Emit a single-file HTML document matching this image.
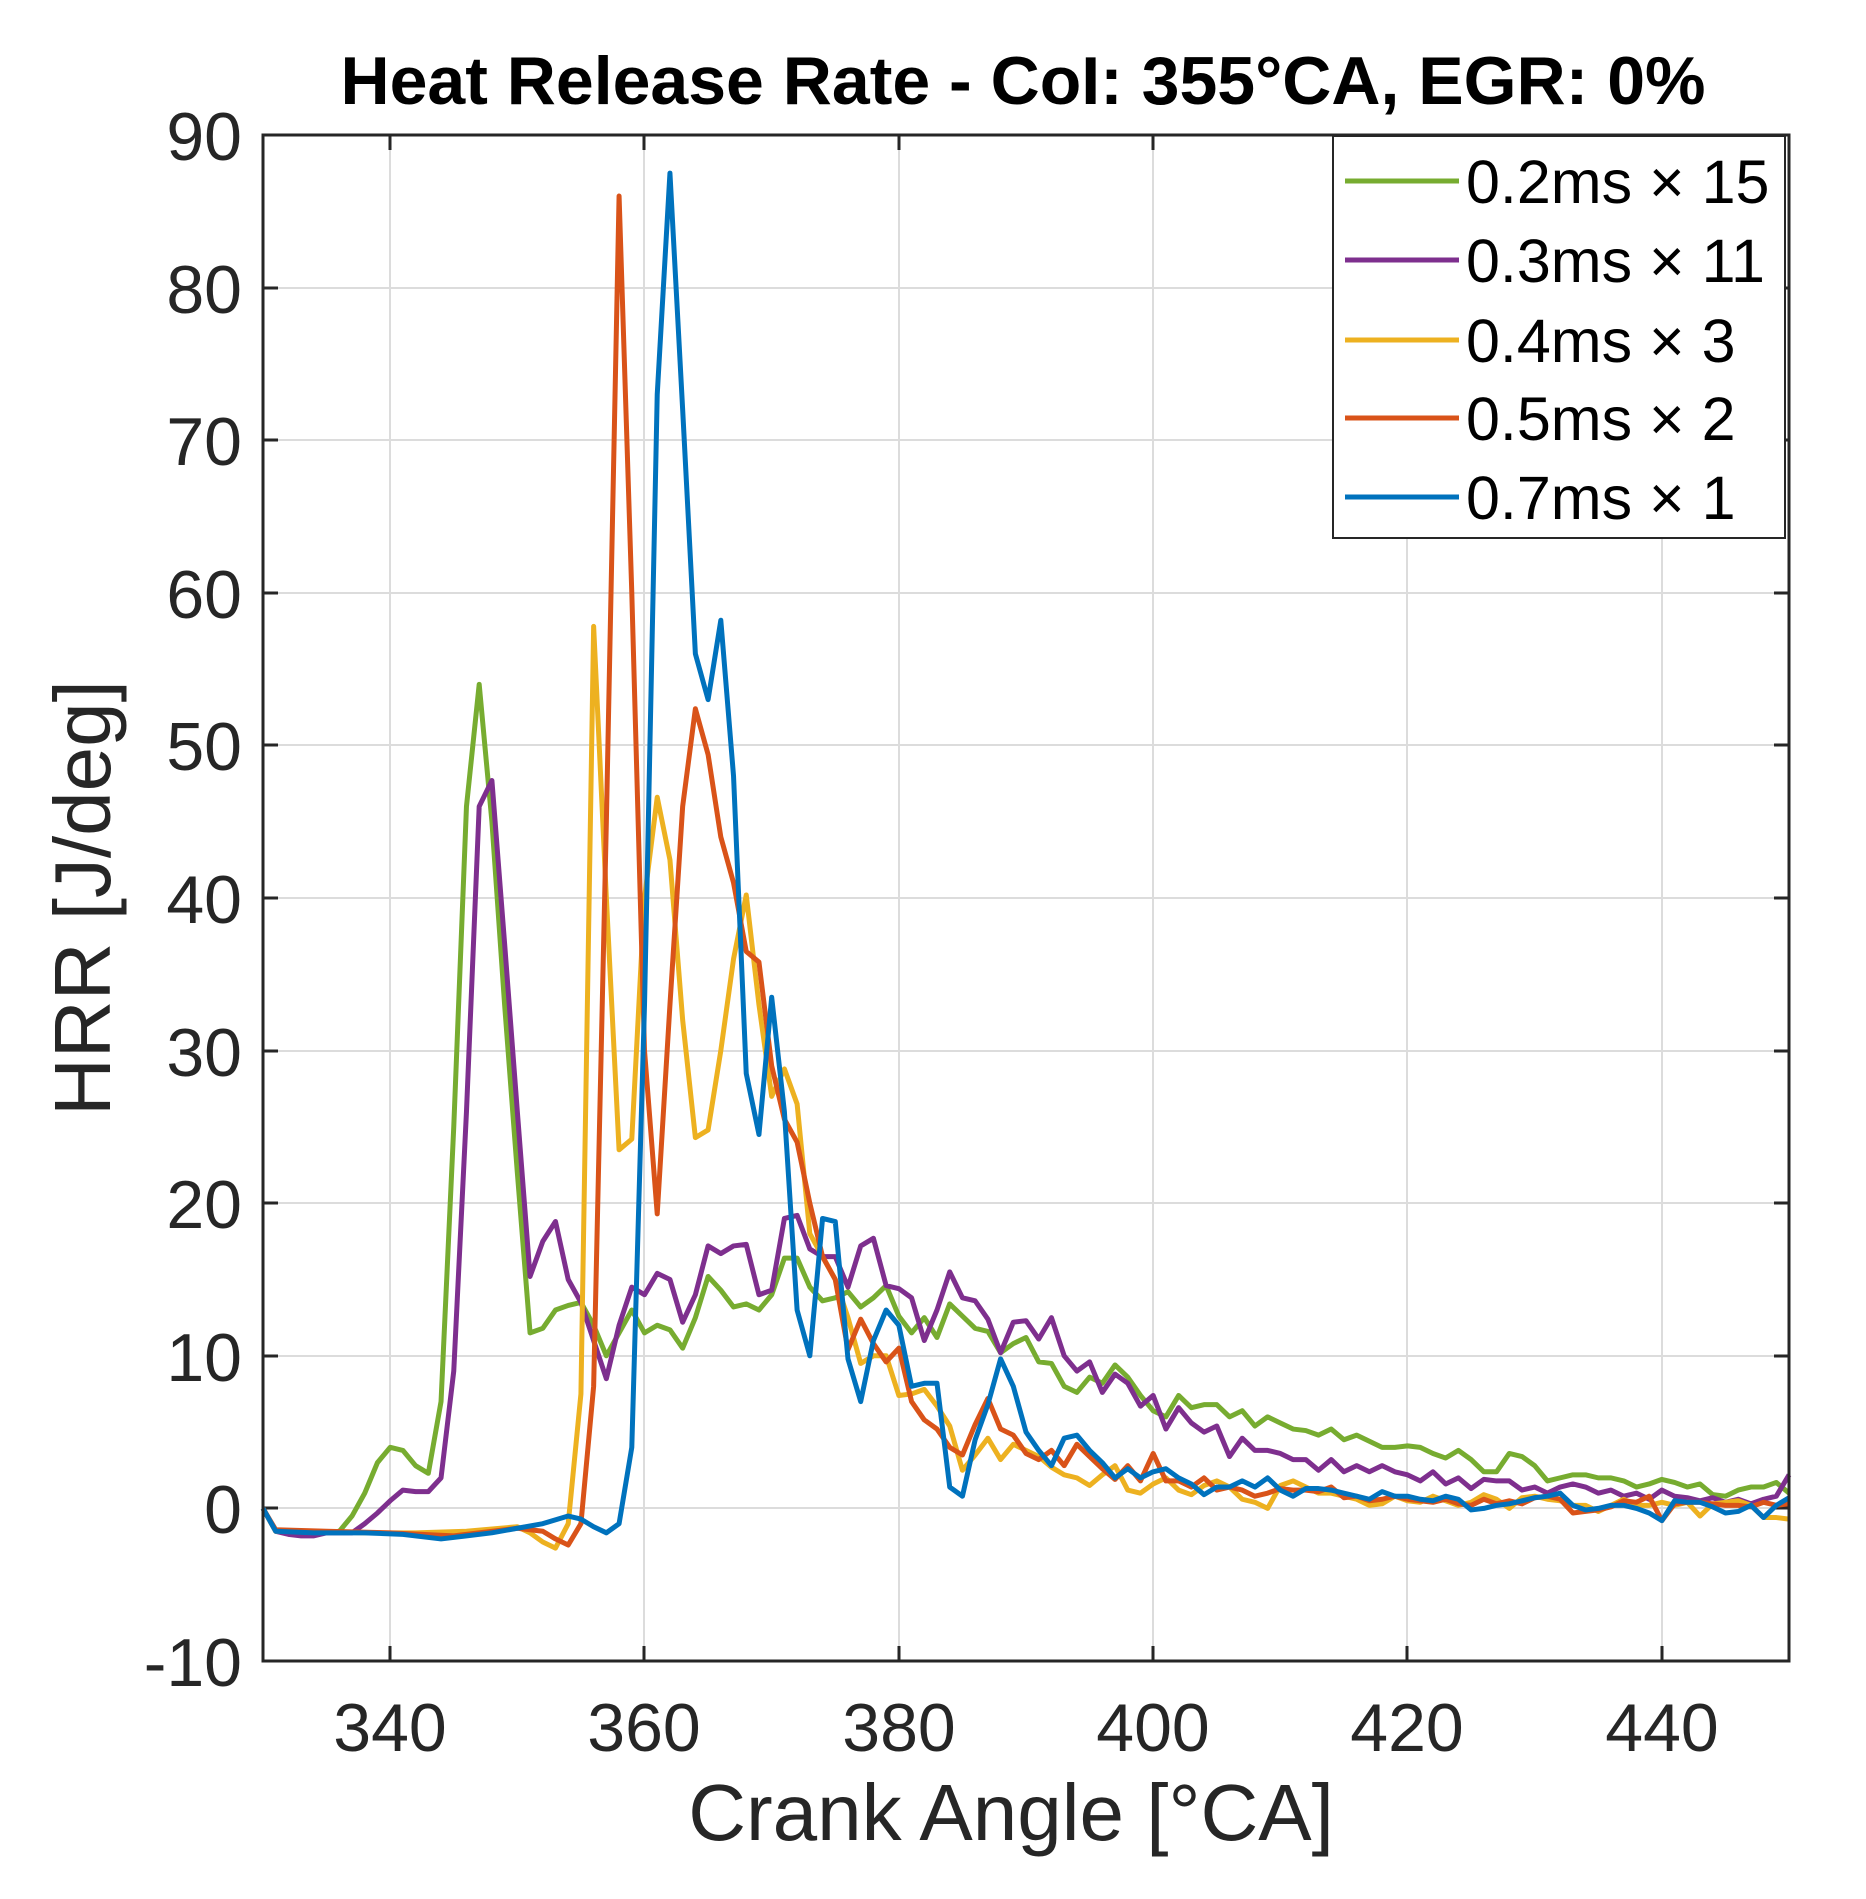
<!DOCTYPE html>
<html><head><meta charset="utf-8"><style>
html,body{margin:0;padding:0;background:#fff;}
svg{display:block;font-family:"Liberation Sans",Arial,sans-serif;}
</style></head><body>
<svg width="1866" height="1899" viewBox="0 0 1866 1899" xmlns="http://www.w3.org/2000/svg">
<rect width="1866" height="1899" fill="#fff"/>
<text x="1023" y="104" font-size="68" font-weight="bold" text-anchor="middle" fill="#000">Heat Release Rate - CoI: 355°CA, EGR: 0%</text>
<g stroke="#dcdcdc" stroke-width="2">
<line x1="390" y1="135" x2="390" y2="1661"/><line x1="644" y1="135" x2="644" y2="1661"/><line x1="899" y1="135" x2="899" y2="1661"/><line x1="1153" y1="135" x2="1153" y2="1661"/><line x1="1407" y1="135" x2="1407" y2="1661"/><line x1="1662" y1="135" x2="1662" y2="1661"/>
<line x1="263" y1="288" x2="1789" y2="288"/><line x1="263" y1="440" x2="1789" y2="440"/><line x1="263" y1="593" x2="1789" y2="593"/><line x1="263" y1="745" x2="1789" y2="745"/><line x1="263" y1="898" x2="1789" y2="898"/><line x1="263" y1="1051" x2="1789" y2="1051"/><line x1="263" y1="1203" x2="1789" y2="1203"/><line x1="263" y1="1356" x2="1789" y2="1356"/><line x1="263" y1="1508" x2="1789" y2="1508"/>
</g>
<g stroke="#262626" stroke-width="3">
<path d="M390 1661v-15M644 1661v-15M899 1661v-15M1153 1661v-15M1407 1661v-15M1662 1661v-15M390 135v15M644 135v15M899 135v15M1153 135v15M1407 135v15M1662 135v15"/>
<path d="M263 288h15M263 440h15M263 593h15M263 745h15M263 898h15M263 1051h15M263 1203h15M263 1356h15M263 1508h15M1789 288h-15M1789 440h-15M1789 593h-15M1789 745h-15M1789 898h-15M1789 1051h-15M1789 1203h-15M1789 1356h-15M1789 1508h-15"/>
</g>
<g transform="translate(263,135) scale(12.717,-15.26) translate(-330,-90)" fill="none" stroke-width="5" stroke-linejoin="round">
<polyline vector-effect="non-scaling-stroke" stroke="#77AC30" points="330,0 331,-1.5 332,-1.5 333,-1.6 334,-1.6 335,-1.6 336,-1.5 337,-0.5 338,1 339,3 340,4 341,3.8 342,2.8 343,2.3 344,7 345,25 346,46 347,54 348,45 349,33 350,22 351,11.5 352,11.8 353,13 354,13.3 355,13.5 356,12 357,10 358,11.5 359,13 360,11.5 361,12 362,11.7 363,10.5 364,12.5 365,15.2 366,14.3 367,13.2 368,13.4 369,13 370,14 371,16.4 372,16.4 373,14.5 374,13.6 375,13.8 376,14.2 377,13.2 378,13.8 379,14.6 380,12.6 381,11.5 382,12.5 383,11.2 384,13.4 385,12.6 386,11.8 387,11.6 388,10.2 389,10.8 390,11.2 391,9.6 392,9.5 393,8 394,7.6 395,8.6 396,8.2 397,9.4 398,8.6 399,7.4 400,6.4 401,6 402,7.4 403,6.6 404,6.8 405,6.8 406,6 407,6.4 408,5.4 409,6 410,5.6 411,5.2 412,5.1 413,4.8 414,5.2 415,4.5 416,4.8 417,4.4 418,4 419,4 420,4.1 421,4 422,3.6 423,3.3 424,3.8 425,3.2 426,2.4 427,2.4 428,3.6 429,3.4 430,2.8 431,1.8 432,2 433,2.2 434,2.2 435,2 436,2 437,1.8 438,1.4 439,1.6 440,1.9 441,1.7 442,1.4 443,1.6 444,0.9 445,0.8 446,1.2 447,1.4 448,1.4 449,1.7 450,1"/>
<polyline vector-effect="non-scaling-stroke" stroke="#7E2F8E" points="330,0 331,-1.5 332,-1.7 333,-1.8 334,-1.8 335,-1.6 336,-1.6 337,-1.6 338,-1 339,-0.3 340,0.5 341,1.2 342,1.1 343,1.1 344,2 345,9 346,26 347,46 348,47.7 349,37 350,26 351,15.2 352,17.5 353,18.8 354,15 355,13.5 356,11 357,8.5 358,12 359,14.5 360,14 361,15.4 362,15 363,12.2 364,14 365,17.2 366,16.7 367,17.2 368,17.3 369,14 370,14.3 371,19 372,19.2 373,17 374,16.5 375,16.5 376,14.5 377,17.2 378,17.7 379,14.6 380,14.4 381,13.8 382,11 383,13 384,15.5 385,13.8 386,13.6 387,12.4 388,10.2 389,12.2 390,12.3 391,11.1 392,12.5 393,10 394,9 395,9.6 396,7.6 397,8.8 398,8.2 399,6.7 400,7.4 401,5.2 402,6.6 403,5.6 404,5 405,5.4 406,3.4 407,4.6 408,3.8 409,3.8 410,3.6 411,3.2 412,3.2 413,2.5 414,3.2 415,2.4 416,2.8 417,2.4 418,2.8 419,2.4 420,2.2 421,1.8 422,2.4 423,1.6 424,2 425,1.3 426,1.9 427,1.8 428,1.8 429,1.2 430,1.4 431,1 432,1.4 433,1.6 434,1.4 435,1 436,1.2 437,0.8 438,1 439,0.6 440,1.2 441,0.8 442,0.7 443,0.5 444,0.7 445,0.4 446,0.6 447,0.3 448,0.6 449,0.8 450,2.2"/>
<polyline vector-effect="non-scaling-stroke" stroke="#EDB120" points="330,0 331,-1.5 334,-1.5 338,-1.6 342,-1.6 346,-1.5 350,-1.2 351,-1.6 352,-2.2 353,-2.6 354,-1 355,7.5 356,57.8 357,40 358,23.5 359,24.2 360,40 361,46.6 362,42.5 363,32 364,24.3 365,24.8 366,30 367,36 368,40.2 369,33 370,27 371,28.8 372,26.5 373,18 374,16.5 375,15 376,12.5 377,9.5 378,10 379,10 380,7.4 381,7.5 382,7.8 383,6.7 384,5.4 385,2.5 386,3.5 387,4.6 388,3.2 389,4.2 390,3.8 391,3.4 392,2.7 393,2.2 394,2 395,1.5 396,2.2 397,2.8 398,1.2 399,1 400,1.6 401,2 402,1.2 403,0.9 404,1.5 405,1.8 406,1.4 407,0.6 408,0.4 409,0 410,1.5 411,1.8 412,1.4 413,1 414,1 415,0.8 416,0.6 417,0.2 418,0.3 419,0.8 420,0.5 421,0.4 422,0.8 423,0.5 424,0.2 425,0.4 426,0.9 427,0.6 428,0 429,0.7 430,0.8 431,0.6 432,0.5 433,0.2 434,0.2 435,-0.2 436,0.2 437,0.6 438,0.2 439,0.2 440,0.4 441,0.2 442,0.4 443,-0.5 444,0.3 445,0.4 446,0.5 447,0.2 448,-0.6 449,-0.6 450,-0.7"/>
<polyline vector-effect="non-scaling-stroke" stroke="#D95319" points="330,0 331,-1.4 335,-1.5 340,-1.6 345,-1.8 350,-1.3 352,-1.5 353,-2 354,-2.4 355,-1 356,8 357,45 358,86 359,60 360,30 361,19.3 362,33 363,46 364,52.4 365,49.4 366,44 367,41 368,36.5 369,35.8 370,29 371,25.5 372,24 373,20 374,16.5 375,15 376,10.4 377,12.4 378,10.8 379,9.6 380,10.5 381,7 382,5.8 383,5.2 384,4 385,3.5 386,5.5 387,7.2 388,5.2 389,4.8 390,3.6 391,3.2 392,3.8 393,2.8 394,4.2 395,3.4 396,2.6 397,1.9 398,2.8 399,1.8 400,3.6 401,1.8 402,1.8 403,1.4 404,2 405,1.2 406,1.4 407,1.2 408,0.8 409,1 410,1.3 411,1.2 412,1.2 413,1.1 414,1.4 415,0.7 416,0.8 417,0.5 418,0.6 419,0.8 420,0.6 421,0.5 422,0.4 423,0.6 424,0.3 425,0.2 426,0.6 427,0.3 428,0.5 429,0.3 430,0.7 431,0.8 432,0.6 433,-0.3 434,-0.2 435,-0.1 436,0.1 437,0.5 438,0.4 439,0.8 440,-0.8 441,0.3 442,0.4 443,0.4 444,0.3 445,0.2 446,0.2 447,0.1 448,0.4 449,0.2 450,0.3"/>
<polyline vector-effect="non-scaling-stroke" stroke="#0072BD" points="330,0 331,-1.5 334,-1.6 338,-1.6 341,-1.7 344,-2 346,-1.8 348,-1.6 350,-1.3 352,-1 354,-0.5 355,-0.7 356,-1.2 357,-1.6 358,-1 359,4 360,33 361,73 362,87.5 363,72 364,56 365,53 366,58.2 367,48 368,28.5 369,24.5 370,33.5 371,26 372,13 373,10 374,19 375,18.8 376,9.8 377,7 378,11 379,13 380,12 381,8 382,8.2 383,8.2 384,1.4 385,0.8 386,4.5 387,6.8 388,9.8 389,8 390,5 391,3.8 392,2.8 393,4.6 394,4.8 395,3.8 396,3 397,2 398,2.6 399,2 400,2.4 401,2.6 402,2 403,1.6 404,0.9 405,1.4 406,1.4 407,1.8 408,1.4 409,2 410,1.2 411,0.8 412,1.3 413,1.3 414,1.2 415,1 416,0.8 417,0.6 418,1.1 419,0.8 420,0.8 421,0.6 422,0.5 423,0.8 424,0.6 425,-0.1 426,0 427,0.2 428,0.3 429,0.5 430,0.7 431,0.8 432,1 433,0.2 434,-0.1 435,0 436,0.2 437,0.2 438,0 439,-0.3 440,-0.8 441,0.5 442,0.4 443,0.4 444,0.1 445,-0.3 446,-0.2 447,0.2 448,-0.6 449,0.2 450,0.7"/>
</g>
<rect x="263" y="135" width="1526" height="1526" fill="none" stroke="#262626" stroke-width="3"/>
<g font-size="68" fill="#262626" text-anchor="end">
<text x="242" y="160">90</text><text x="242" y="313">80</text><text x="242" y="465">70</text><text x="242" y="618">60</text><text x="242" y="770">50</text><text x="242" y="923">40</text><text x="242" y="1076">30</text><text x="242" y="1228">20</text><text x="242" y="1381">10</text><text x="242" y="1533">0</text><text x="242" y="1686">-10</text>
</g>
<g font-size="68" fill="#262626" text-anchor="middle">
<text x="390" y="1751">340</text><text x="644" y="1751">360</text><text x="899" y="1751">380</text><text x="1153" y="1751">400</text><text x="1407" y="1751">420</text><text x="1662" y="1751">440</text>
</g>
<text x="1011" y="1840" font-size="80" fill="#262626" text-anchor="middle">Crank Angle [°CA]</text>
<text transform="translate(110,898) rotate(-90)" font-size="80" fill="#262626" text-anchor="middle">HRR [J/deg]</text>
<rect x="1333" y="136" width="452" height="402" fill="#fff" stroke="#262626" stroke-width="2"/>
<g stroke-width="5">
<line x1="1345" y1="181" x2="1459" y2="181" stroke="#77AC30"/>
<line x1="1345" y1="260" x2="1459" y2="260" stroke="#7E2F8E"/>
<line x1="1345" y1="340" x2="1459" y2="340" stroke="#EDB120"/>
<line x1="1345" y1="418" x2="1459" y2="418" stroke="#D95319"/>
<line x1="1345" y1="497" x2="1459" y2="497" stroke="#0072BD"/>
</g>
<g font-size="61" fill="#000">
<text x="1466" y="203">0.2ms × 15</text>
<text x="1466" y="282">0.3ms × 11</text>
<text x="1466" y="362">0.4ms × 3</text>
<text x="1466" y="440">0.5ms × 2</text>
<text x="1466" y="519">0.7ms × 1</text>
</g>
</svg>
</body></html>
